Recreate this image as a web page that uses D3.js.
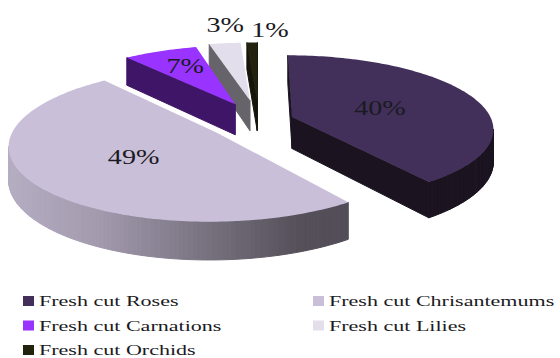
<!DOCTYPE html>
<html>
<head>
<meta charset="utf-8">
<script src="https://cdn.jsdelivr.net/npm/d3@7/dist/d3.min.js"></script>
<style>
html,body{margin:0;padding:0;background:#fff}
svg{display:block}
text{font-family:"Liberation Serif",serif;fill:#1a1a22}
</style>
</head>
<body>
<svg id="chart" width="560" height="358"></svg>
<script>
// Flower sales shares, in percent
const categories = ["Fresh cut Roses","Fresh cut Chrisantemums","Fresh cut Carnations","Fresh cut Lilies","Fresh cut Orchids"];
const shares = [40,49,7,3,1];
const explode = [0.175,0.26,0.27,0.3,0.3];
const topColors = ["#42305a","#c9bfd9","#9933ff","#e3deeb","#22220f"];
const sideColors = ["#1b1420","#5a5560","#3f1568","#66646a","#15150a"];
const labelRadius = [0.48,0.48,0.71,1.41,1.27];
const labelNudge = [0,0,5,9,19];

// Perspective of the tilted pie: ground plane (u across, v toward the viewer) to the screen
const view = {xv:259, yh:-365, A:3280, B:1350, D:6.75, H:214};
const project = (u,v,drop=0) => {
  const w = 1/(view.D - v);
  return [view.xv + view.B*u*w, view.yh + view.A*w + drop*view.H*w];
};

const svg = d3.select("#chart");
const arcs = d3.pie().value(d=>d).sort(null)(shares);

// Outer wall of the big light slice darkens from left to right
const wallShade = d3.scaleLinear().domain([10,100,200,300,347])
  .range(["#b5adc2","#a39aae","#7b7583","#555059","#524d58"]).clamp(true);

const line = d3.line();
const drawOrder = [4,3,2,0,1];

drawOrder.forEach(i=>{
  const d = arcs[i], e = explode[i];
  const mid = (d.startAngle+d.endAngle)/2;
  const ou = e*Math.sin(mid), ov = -e*Math.cos(mid);
  const rim = t => [ou+Math.sin(t), ov-Math.cos(t)];
  const apex = [ou,ov];
  const g = svg.append("g").attr("class","slice");

  const wall = (p,q,fill) => {
    const a = project(...p), b = project(...q);
    if (b[0] >= a[0]) return;
    const c = project(...q,1), f = project(...p,1);
    g.append("path").attr("d",line([a,b,c,f])+"Z")
      .attr("fill",fill).attr("stroke",fill).attr("stroke-width",1);
  };

  const steps = d3.range(0,Math.ceil((d.endAngle-d.startAngle)/0.02)+1)
    .map((k,_,all)=>d.startAngle+(d.endAngle-d.startAngle)*k/(all.length-1));

  wall(apex,rim(d.startAngle),sideColors[i]);
  wall(rim(d.endAngle),apex,sideColors[i]);
  d3.pairs(steps).forEach(([s,t])=>{
    const x = project(...rim(s))[0];
    wall(rim(s),rim(t), i===1 ? wallShade(x) : sideColors[i]);
  });

  const outline = [apex,...steps.map(rim)].map(p=>project(...p));
  g.append("path").attr("d",line(outline)+"Z").attr("fill",topColors[i]);
});

// Percentage labels sit along each slice's middle direction
arcs.forEach((d,i)=>{
  const mid = (d.startAngle+d.endAngle)/2, e = explode[i], r = labelRadius[i];
  const [x,y] = project((e+r)*Math.sin(mid),-(e+r)*Math.cos(mid));
  svg.append("text").attr("transform",`translate(${x+labelNudge[i]},${y+8}) scale(1.28,1)`)
    .attr("text-anchor","middle").attr("font-size",22).text(shares[i]+"%");
});

// Legend, two columns filled row by row
const col = d3.scaleOrdinal().domain([0,1]).range([23,313]);
const row = d3.scaleLinear().domain([0,2]).range([301,350]);
categories.forEach((c,i)=>{
  const x = col(i%2), y = row(Math.floor(i/2));
  svg.append("rect").attr("x",x).attr("y",y-5).attr("width",11).attr("height",10).attr("fill",topColors[i]);
  svg.append("text").attr("transform",`translate(${x+16},${y+5}) scale(1.47,1)`)
    .attr("font-size",15).text(c);
});
</script>
</body>
</html>
